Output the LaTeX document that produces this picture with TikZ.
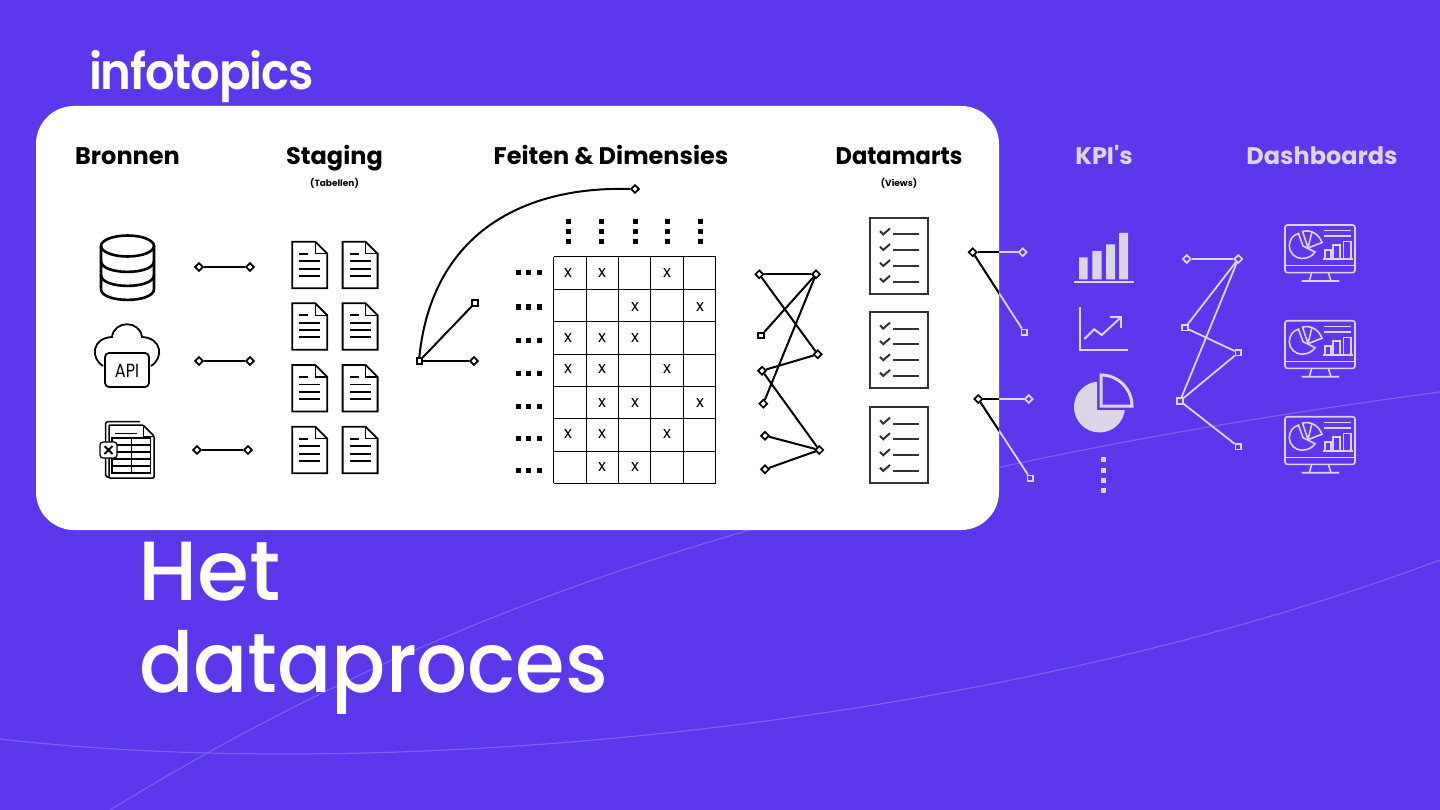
\documentclass[tikz,border=0pt]{standalone}
\usepackage{fontspec}
\setmainfont{Poppins}
\newfontfamily\medfont{Poppins Medium}
\newfontfamily\semifont{Poppins SemiBold}
\usetikzlibrary{shapes.geometric}
\definecolor{bg}{HTML}{5C37EB}
\definecolor{wave}{HTML}{7A5FF0}
\definecolor{lite}{HTML}{DAD6E8}
\definecolor{chk}{HTML}{333333}
\tikzset{
  hd/.style={font=\fontsize{24}{24}\selectfont\bfseries, anchor=base, inner sep=0pt},
  subhd/.style={font=\fontsize{9}{9}\selectfont\bfseries, anchor=base, inner sep=0pt},
  dmd/.style={diamond, draw=black, fill=white, line width=1.7pt, minimum size=8.5pt, inner sep=0pt},
  sqr/.style={rectangle, draw=black, fill=white, line width=2pt, minimum size=5.5pt, inner sep=0pt},
  dmdl/.style={diamond, draw=lite, fill=bg, line width=1.7pt, minimum size=8.5pt, inner sep=0pt},
  sqrl/.style={rectangle, draw=lite, fill=bg, line width=1.8pt, minimum size=5.5pt, inner sep=0pt},
  conn/.style={line width=2pt, black},
  connl/.style={line width=1.8pt, lite},
  xmark/.style={font=\fontsize{16.5}{16.5}\selectfont, inner sep=0pt},
  dotk/.style={rectangle, fill=black, minimum size=5pt, inner sep=0pt},
  dotl/.style={rectangle, fill=lite, minimum size=5pt, inner sep=0pt},
  docicon/.pic={
    \draw[black, line width=1.8pt, line join=miter, fill=white] (0,0) -- (23,0) -- (35,12) -- (35,46.5) -- (0,46.5) -- cycle;
    \draw[black, line width=1.2pt] (23,0) -- (23,12) -- (35,12);
    \draw[black, line width=1.7pt] (7,12) -- (16,12) (7,19.5) -- (28,19.5) (7,27) -- (28,27) (7,34) -- (28,34);
  },
  listicon/.pic={
    \draw[chk, line width=2.2pt] (0,0) rectangle (58.6,76);
    \foreach \yy in {16.7,32.3,48.3,64}{
      \draw[chk, line width=2pt] (10.3,\yy-3.3) -- (13.5,\yy) -- (20.3,\yy-6);
      \draw[chk, line width=1.9pt] (23.7,\yy) -- (49.3,\yy);
    }
  },
  dashicon/.pic={
    \draw[lite, line width=1.6pt, rounded corners=2.5pt] (0,0) rectangle (70,47.7);
    \draw[lite, line width=1.6pt] (0,40.7) -- (70,40.7);
    \draw[lite, line width=1.6pt] (26.7,47.7) -- (24.3,56) (43.3,47.7) -- (46,56) (16.7,56) -- (54.3,56);
    \draw[lite, line width=1.6pt] (39,5.7) -- (65.7,5.7) (39,11) -- (65.7,11);
    \draw[lite, line width=1.6pt] (37.7,34.3) -- (68,34.3);
    \draw[lite, line width=1.6pt] (40,34.3) -- (40,25) -- (45.7,25) -- (45.7,34.3)
      (48,34.3) -- (48,20) -- (55,20) -- (55,34.3)
      (58.3,34.3) -- (58.3,16.7) -- (66,16.7) -- (66,34.3);
    \draw[lite, line width=1.6pt] (13.5,8.5) .. controls (7.5,9.8) and (4.3,15.5) .. (4.3,21)
       .. controls (4.3,28) and (10,33.5) .. (17,33.5)
       .. controls (22.5,33.5) and (27.5,31) .. (30,27) -- (18,21) -- cycle;
    \draw[lite, line width=1.6pt] (23,23) -- (17.5,6.5) .. controls (26,4) and (34,9.5) .. (37,17.5) -- cycle;
    \draw[lite, line width=1.6pt] (23,23) -- (27,6.5);
  }
}
\begin{document}
\begin{tikzpicture}[x=1pt,y=-1pt]
\useasboundingbox (0,0) rectangle (1440,810);
\fill[bg] (0,0) rectangle (1440,810);
\begin{scope}
  \clip (0,0) rectangle (1440,810);
  \draw[wave, line width=1.2pt] (0,739) .. controls (400,785) and (1000,725) .. (1440,560);
  \draw[wave, line width=1.2pt] (110,810) .. controls (420,620) and (780,480) .. (1440,392);
\end{scope}

% card
\fill[white, rounded corners=38pt] (36,106) rectangle (999,530);

% logo
\node[anchor=base west, inner sep=0pt, text=white, xscale=0.93] (logo) at (89,90) {\semifont\addfontfeature{LetterSpace=-2.5}\fontsize{50}{50}\selectfont infotopics};

% title
\node[anchor=base west, inner sep=0pt, text=white] (title1) at (138,600) {\medfont\fontsize{84}{84}\selectfont Het};
\node[anchor=base west, inner sep=0pt, text=white, xscale=0.953] (title2) at (139,692) {\medfont\fontsize{84}{84}\selectfont dataproces};

% headings
\node[hd] (hBron) at (127.5,164.5) {Bronnen};
\node[hd] (hStag) at (334.5,164.5) {Staging};
\node[subhd] (hTab) at (334.5,186.5) {(Tabellen)};
\node[hd] (hFeit) at (611,164.5) {Feiten \& Dimensies};
\node[hd, xscale=0.94] (hData) at (899,164.5) {Datamarts};
\node[subhd] (hView) at (899,186.5) {(Views)};
\node[hd, text=lite] (hKpi) at (1104,164.5) {\addfontfeature{Ligatures=TeXOff}KPI's};
\node[hd, text=lite] (hDash) at (1322,164.5) {Dashboards};

% database
\begin{scope}[line width=2.6pt, black]
  \draw (127.5,246) ellipse [x radius=26.5, y radius=10.5];
  \draw (101,246) -- (101,289) .. controls (101,303.5) and (154,303.5) .. (154,289) -- (154,246);
  \draw (101,261) .. controls (101,275.5) and (154,275.5) .. (154,261);
  \draw (101,275) .. controls (101,289.5) and (154,289.5) .. (154,275);
\end{scope}

% API
\draw[black, line width=1.8pt] (103,366) .. controls (90,358) and (92,338) .. (112,337)
   .. controls (114,320) and (140,320) .. (142,337) .. controls (162,338) and (164,358) .. (151,366);
\draw[black, line width=1.8pt, fill=white, rounded corners=4pt] (105,353) rectangle (149,387);
\node[inner sep=0pt, font=\fontsize{19}{19}\selectfont, xscale=0.85] (api) at (127,370.5) {API};

% excel
\draw[black, line width=1.5pt, rounded corners=1.5pt] (109,477) -- (105.7,477) -- (105.7,421.7) -- (140,421.7);
\draw[black, line width=1.5pt, fill=white, rounded corners=1pt] (109,425) -- (143,425) -- (154,436) -- (154,478) -- (109,478) -- cycle;
\draw[black, line width=1pt] (143,425) -- (143,436) -- (154,436);
\draw[black, line width=1pt] (115,433) -- (137,433);
\draw[black, line width=1.5pt] (112,438) rectangle (150.7,473);
\foreach \yy in {445,452,459,466} \draw[black, line width=1.2pt] (112,\yy) -- (150.7,\yy);
\draw[black, line width=1.5pt] (131.7,438) -- (131.7,473);
\draw[black, line width=1.3pt, fill=white, rounded corners=3pt] (100,442) rectangle (117,458);
\draw[black, line width=2pt] (104.5,446) -- (112.5,454) (112.5,446) -- (104.5,454);

% source connectors
\node[dmd] (s1a) at (199,267) {}; \node[dmd] (s1b) at (250,267) {};
\node[dmd] (s2a) at (199,361) {}; \node[dmd] (s2b) at (250,361) {};
\node[dmd] (s3a) at (197,450) {}; \node[dmd] (s3b) at (248,450) {};
\draw[conn] (s1a) -- (s1b); \draw[conn] (s2a) -- (s2b); \draw[conn] (s3a) -- (s3b);

% staging docs
\foreach \yy in {241.7,303.3,365,426.7}{
  \pic at (292.3,\yy) {docicon};
  \pic at (342.6,\yy) {docicon};
}

% hub to facts
\node[sqr] (hub) at (419.3,361) {};
\node[sqr] (hubA) at (475,303) {};
\node[dmd] (hubB) at (474,361) {};
\node[dmd] (hubC) at (635,189) {};
\draw[conn] (hub) -- (hubA);
\draw[conn] (hub) -- (hubB);
\draw[conn] (hub.north) .. controls (432,232) and (525,186) .. (hubC.west);

% top dots
\foreach \xx [count=\i] in {568,601.7,635,667.7,700.7}
  \foreach \yy [count=\j] in {221.7,231.7,242}
    \node[dotk] (td\i\j) at (\xx,\yy) {};
% left dots
\foreach \yy [count=\j] in {273,307,340,373.7,406,438,470.7}
  \foreach \xx [count=\i] in {518.5,528.5,539}
    \node[dotk] (ld\j\i) at (\xx,\yy) {};

% grid
\foreach \yy in {257,289.3,321.3,354.3,386.3,418.3,451.3,483.3}
  \draw[black, line width=1pt] (553.7,\yy) -- (715.7,\yy);
\foreach \xx in {553.7,586.1,618.5,650.9,683.3,715.7}
  \draw[black, line width=1pt] (\xx,257) -- (\xx,483.3);
% x marks
\foreach \xx/\yy/\nm in {568/272.5/a1,602/272.5/a2,667/272.5/a4,
  635/306.5/b3,700/306.5/b5,
  568/337.5/c1,602/337.5/c2,635/337.5/c3,
  568/368.5/d1,602/368.5/d2,667/368.5/d4,
  602/402.5/e2,635/402.5/e3,700/402.5/e5,
  568/433.5/f1,602/433.5/f2,667/433.5/f4,
  602/467/g2,635/467/g3}
  \node[xmark] (x\nm) at (\xx,\yy) {x};

% facts to datamarts
\node[dmd] (mA) at (759.3,274.3) {};
\node[dmd] (mB) at (816,274.3) {};
\node[sqr] (mC) at (761,335.7) {};
\node[dmd] (mD) at (817.7,354.3) {};
\node[dmd] (mE) at (762,370.7) {};
\node[dmd] (mF) at (763.3,403.7) {};
\node[dmd] (mG) at (765,435.7) {};
\node[dmd] (mH) at (819.3,450) {};
\node[dmd] (mI) at (765,469.3) {};
\draw[conn] (mA) -- (mB);
\draw[conn] (mA) -- (mD);
\draw[conn] (mB) -- (mC);
\draw[conn] (mB) -- (mF);
\draw[conn] (mD) -- (mE);
\draw[conn] (mE) -- (mH);
\draw[conn] (mG) -- (mH);
\draw[conn] (mH) -- (mI);

% checklists
\foreach \yy in {217.7,311.9,406.9}
  \pic at (869.7,\yy) {listicon};

% connectors crossing the card edge
\node[dmd, fill=white] (kH1) at (972.7,252.3) {};
\node[dmd, fill=white] (kH2) at (978.3,399) {};
\node[dmdl] (kJ) at (1022.7,252.3) {};
\node[sqrl] (kK) at (1024.3,332.3) {};
\node[dmdl] (kL) at (1028.7,399) {};
\node[sqrl] (kM) at (1030.3,478.3) {};
\draw[connl] (kH1) -- (kJ);
\draw[connl] (kH1) -- (kK);
\draw[connl] (kH2) -- (kL);
\draw[connl] (kH2) -- (kM);
\begin{scope}
  \clip[rounded corners=38pt] (36,106) rectangle (999,530);
  \draw[conn] (kH1) -- (kJ);
  \draw[conn] (kH1) -- (kK);
  \draw[conn] (kH2) -- (kL);
  \draw[conn] (kH2) -- (kM);
\end{scope}

% KPI icons
\fill[lite] (1079,257.3) rectangle (1087.7,279.3)
            (1092.3,251) rectangle (1101.7,279.3)
            (1106,244.3) rectangle (1115,279.3)
            (1119,233) rectangle (1128,279.3);
\draw[lite, line width=1.7pt] (1074,281.7) -- (1134,281.7);
\draw[lite, line width=2pt] (1080,306.7) -- (1080,350) -- (1128,350);
\draw[lite, line width=2pt] (1084.3,339) -- (1094.3,329.3) -- (1101.7,335) -- (1121,317.3);
\draw[lite, line width=2pt] (1110,316.7) -- (1121,316.7) -- (1121,328);
\begin{scope}
  \clip (1060,370) -- (1097,370) -- (1097,410) -- (1140,410) -- (1140,440) -- (1060,440) -- cycle;
  \fill[lite] (1099.5,407) circle [radius=25.5];
\end{scope}
\draw[lite, line width=3pt, line join=miter] (1101,406) -- (1101,375) .. controls (1118,375) and (1132,389) .. (1132,406) -- cycle;
\foreach \yy [count=\j] in {459.3,470,480.3,490.7}
  \node[dotl] (vd\j) at (1103.3,\yy) {};

% KPI to dashboards
\node[dmdl] (rN) at (1186.7,259) {};
\node[dmdl] (rO) at (1238.3,259) {};
\node[sqrl] (rP) at (1185,327.7) {};
\node[sqrl] (rQ) at (1238.3,352.7) {};
\node[sqrl] (rR) at (1180,401) {};
\node[sqrl] (rS) at (1238.3,446.7) {};
\draw[connl] (rN) -- (rO);
\draw[connl] (rO) -- (rP);
\draw[connl] (rO) -- (rR);
\draw[connl] (rP) -- (rQ);
\draw[connl] (rQ) -- (rR);
\draw[connl] (rR) -- (rS);

% dashboards
\foreach \yy in {225,320.7,416.7}
  \pic at (1285,\yy) {dashicon};
\end{tikzpicture}
\end{document}
